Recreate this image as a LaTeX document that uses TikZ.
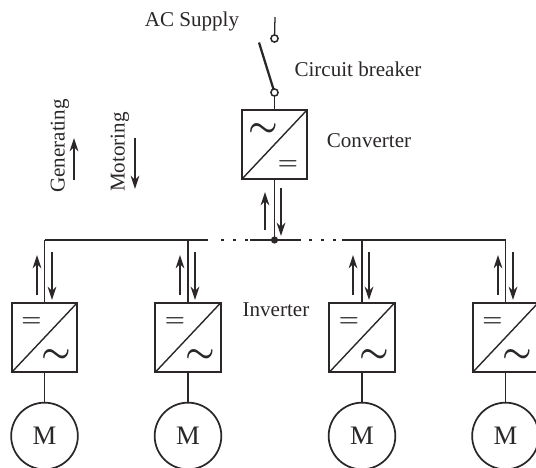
\documentclass[tikz,border=0pt]{standalone}
\usepackage{fontspec}
\setmainfont{Liberation Serif}
\usetikzlibrary{arrows.meta}
\definecolor{ink}{HTML}{2B2727}
\tikzset{
  ink line/.style={draw=ink,line width=0.95pt},
  flow/.style={draw=ink,line width=0.95pt,-{Stealth[length=10pt,width=6.5pt]}},
  power box/.style={draw=ink,line width=1.7pt,minimum width=49pt,minimum height=52pt,inner sep=0pt,outer sep=0pt},
  diag/.style={draw=ink,line width=1.05pt},
  motor/.style={circle,draw=ink,line width=1.3pt,minimum size=50pt,inner sep=0pt,outer sep=0pt,text=ink,font=\fontsize{20}{20}\selectfont},
  terminal/.style={circle,draw=ink,line width=1.1pt,fill=white,minimum size=5.4pt,inner sep=0pt,outer sep=0pt},
  label/.style={text=ink,font=\fontsize{15.8}{18}\selectfont,inner sep=0pt},
  sym tilde/.style={text=ink,font=\boldmath\fontsize{30}{30}\selectfont,inner sep=0pt},
  sym equal/.style={text=ink,font=\boldmath\fontsize{18}{18}\selectfont,inner sep=0pt},
  bus gap/.style={draw=ink,line width=1.1pt,dash pattern=on 2pt off 7pt},
}
\begin{document}
\begin{tikzpicture}[x=0.75pt,y=-0.75pt]
\useasboundingbox (0,0) rectangle (536,468);
\clip (0,0) rectangle (536,468);
% texts
\node[label] (ac) at (192,21) {AC Supply};
\node[label] (cb) at (358,69) {Circuit breaker};
\node[label] (conv) at (369,141) {Converter};
\node[label] (inv) at (276,310) {Inverter};
\node[label,rotate=90] (gen) at (60,146) {Generating};
\node[label,rotate=90] (mot) at (120,152) {Motoring};
% legend arrows
\coordinate (g1) at (74,180); \coordinate (g2) at (74,138);
\coordinate (m1) at (135,138); \coordinate (m2) at (135,189);
\draw[flow] (g1) -- (g2);
\draw[flow] (m1) -- (m2);
% supply and breaker
\coordinate (sup) at (275,17);
\node[terminal] (t1) at (274.5,38.5) {};
\node[terminal] (t2) at (274.5,92.5) {};
\coordinate (blade) at (259,42.5);
\draw[ink line] (sup) -- (t1);
\draw[draw=ink,line width=1.7pt] (blade) -- (t2);
% converter
\node[power box] (c) at (274.5,144.5) {};
\draw[diag] (c.south west) -- (c.north east);
\node[sym tilde] (ct) at (263,130) {$\sim$};
\node[sym equal] (ce) at (288,165) {$=$};
\draw[ink line] (t2) -- (c.north);
% bus
\coordinate (j) at (274.5,240);
\fill[ink] (j) circle (2.7pt);
\draw[ink line] (c.south) -- (j);
\coordinate (cu1) at (265,230); \coordinate (cu2) at (265,192);
\coordinate (cd1) at (281,188); \coordinate (cd2) at (281,236);
\draw[flow] (cu1) -- (cu2);
\draw[flow] (cd1) -- (cd2);
\coordinate (b1) at (208,240); \coordinate (b2) at (250,240);
\coordinate (b3) at (301,240); \coordinate (b4) at (342,240);
\draw[bus gap] ([xshift=10]b1) -- (b2);
\draw[bus gap] ([xshift=6]b3) -- (b4);
\draw[ink line] (b2) -- (b3);
% inverters and motors
\foreach \n/\cx/\ba/\bc/\bx in {1/44.5/37/52/44.5,2/188/180/195/188,3/362/353/369/362,4/505.5/498/513/505.5}{
  \node[power box] (i\n) at (\cx,337.5) {};
  \draw[diag] (i\n.south west) -- (i\n.north east);
  \node[sym equal] (ie\n) at (\cx-13,322) {$=$};
  \node[sym tilde] (it\n) at (\cx+12,356) {$\sim$};
  \node[motor] (m\n) at (\cx,436) {M};
  \draw[ink line] (i\n.south) -- (m\n.north);
  \coordinate (top\n) at (\cx,240);
  \draw[ink line] (top\n) -- (i\n.north);
  \coordinate (up\n a) at (\ba,295); \coordinate (up\n b) at (\ba,255);
  \coordinate (dn\n a) at (\bc,252); \coordinate (dn\n b) at (\bc,300);
  \draw[flow] (up\n a) -- (up\n b);
  \draw[flow] (dn\n a) -- (dn\n b);
}
\draw[ink line] (top1) -- (b1);
\draw[ink line] (b4) -- (top4);
\end{tikzpicture}
\end{document}
